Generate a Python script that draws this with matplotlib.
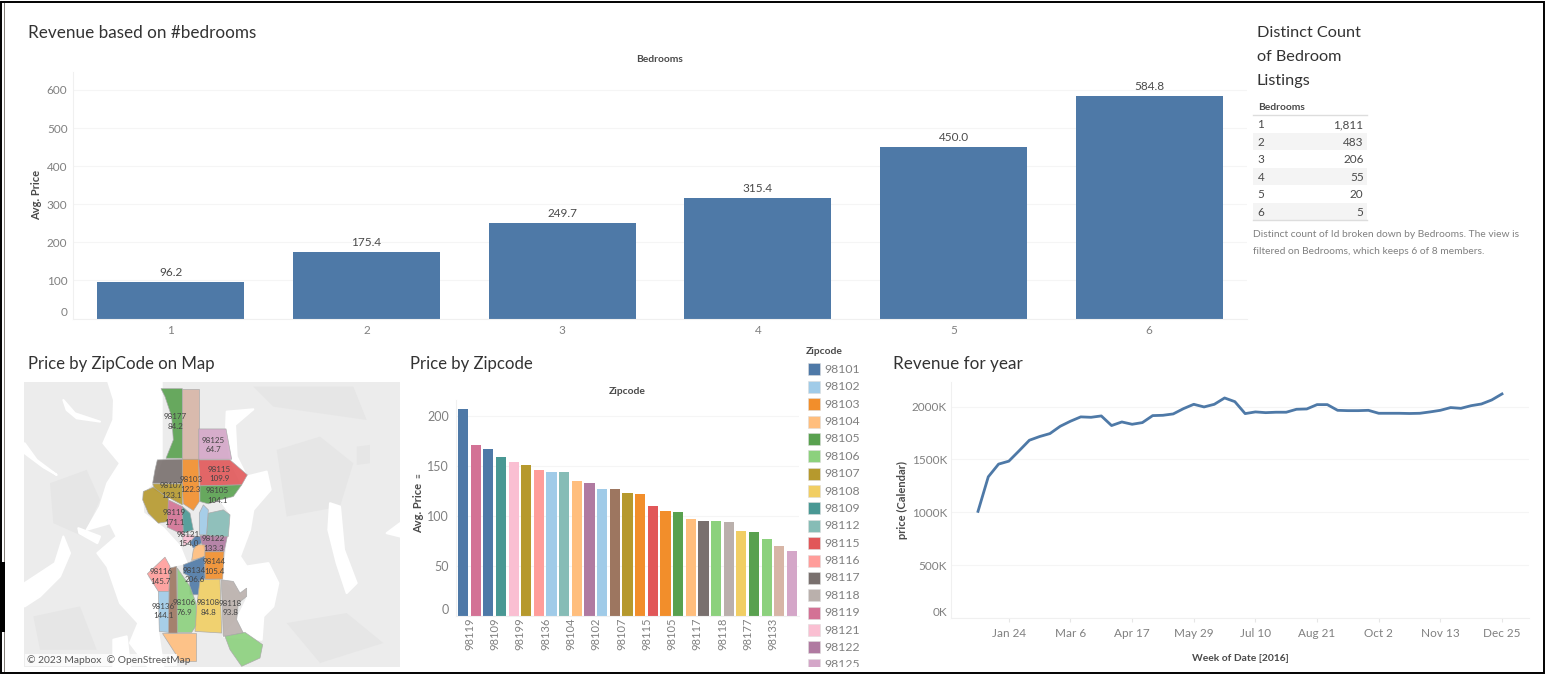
import numpy as np
import pandas as pd
import matplotlib
matplotlib.use('Agg')
import matplotlib.pyplot as plt
from matplotlib.patches import Polygon, Rectangle
from matplotlib.ticker import FuncFormatter

plt.rcParams['font.family'] = ['Lato', 'DejaVu Sans']

W, H = 1546, 675

BLUE = '#4e79a7'
TITLE = '#333333'
GREY = '#808080'
DARK = '#4a4a4a'
GRID = '#f5f5f5'

# ---------------------------------------------------------------------------
# Data

bedrooms = ['1', '2', '3', '4', '5', '6']
avg_price = [96.2, 175.4, 249.7, 315.4, 450.0, 584.8]
listing_counts = ['1,811', '483', '206', '55', '20', '5']

zip_order = ['98134', '98119', '98101', '98109', '98121', '98199', '98116', '98136', '98112',
             '98104', '98122', '98102', '98126', '98107', '98103', '98115', '98144', '98105',
             '98146', '98117', '98155', '98118', '98108', '98177', '98106', '98133', '98125']
zip_price = [206.6, 171.1, 167, 159, 154, 151.5, 145.7, 144.1, 144,
             135, 133.3, 127.5, 127.5, 123.1, 122.3, 109.9, 105.4, 104.1,
             97.5, 95, 95, 93.8, 84.8, 84.2, 76.9, 70.5, 64.7]

legend_zips = ['98101', '98102', '98103', '98104', '98105', '98106', '98107', '98108', '98109',
               '98112', '98115', '98116', '98117', '98118', '98119', '98121', '98122', '98125']

zip_colors = {'98101': '#4e79a7', '98102': '#a0cbe8', '98103': '#f28e2b', '98104': '#ffbe7d',
              '98105': '#59a14f', '98106': '#8cd17d', '98107': '#b6992d', '98108': '#f1ce63',
              '98109': '#499894', '98112': '#86bcb6', '98115': '#e15759', '98116': '#ff9d9a',
              '98117': '#79706e', '98118': '#bab0ac', '98119': '#d37295', '98121': '#fabfd2',
              '98122': '#b07aa1', '98125': '#d4a6c8', '98126': '#9d7660', '98133': '#d7b5a6',
              '98134': '#4e79a7', '98136': '#a0cbe8', '98144': '#f28e2b', '98146': '#ffbe7d',
              '98155': '#8cd17d', '98177': '#59a14f', '98178': '#8cd17d', '98199': '#b6992d'}

week_dates = pd.date_range('2016-01-03', periods=52, freq='7D')
revenue = [1009, 1336, 1456, 1484, 1582, 1682, 1717, 1745, 1814, 1862, 1903, 1899, 1912,
           1821, 1855, 1833, 1849, 1915, 1918, 1931, 1981, 2022, 1997, 2022, 2082, 2047,
           1934, 1950, 1943, 1947, 1947, 1975, 1978, 2019, 2019, 1965, 1962, 1962, 1965,
           1937, 1937, 1937, 1935, 1937, 1950, 1965, 1991, 1984, 2009, 2025, 2063, 2120]
revenue_ticks = ['Jan 24', 'Mar 6', 'Apr 17', 'May 29', 'Jul 10', 'Aug 21', 'Oct 2', 'Nov 13', 'Dec 25']

# map shapes, in map units (x to the right, y downwards)
map_land = [(12, 96), (1140, 96), (1140, 952), (12, 952)]
map_land_dark = [
    [(90, 400), (200, 360), (240, 450), (190, 560), (100, 520)],
    [(770, 300), (900, 260), (1000, 340), (960, 470), (800, 500)],
    [(1010, 290), (1050, 285), (1050, 340), (1010, 345)],
    [(800, 820), (980, 790), (1090, 880), (900, 940)],
    [(40, 800), (180, 770), (230, 900), (60, 900)],
    [(700, 110), (1000, 110), (1040, 210), (760, 170)],
]
map_water = [
    [(265, 96), (425, 96), (425, 330), (398, 400), (365, 430), (370, 490), (430, 535), (480, 590),
     (500, 640), (395, 660), (380, 680), (415, 730), (415, 850), (430, 952), (385, 952), (330, 880),
     (355, 820), (300, 760), (262, 650), (232, 610), (290, 560), (270, 520), (200, 540), (240, 470),
     (262, 400), (300, 340), (250, 280), (280, 210), (282, 150)],
    [(620, 185), (700, 178), (645, 225), (650, 320), (680, 380), (740, 365), (752, 420), (700, 480),
     (690, 540), (660, 620), (680, 650), (745, 640), (775, 700), (760, 770), (730, 800), (725, 870),
     (610, 860), (650, 810), (682, 745), (610, 690), (625, 560), (630, 490), (600, 450), (665, 405),
     (630, 330), (618, 240)],
    [(930, 460), (960, 470), (972, 600), (1010, 700), (980, 730), (950, 640), (925, 540)],
    [(14, 280), (50, 330), (110, 375), (70, 352), (14, 310)],
    [(14, 700), (105, 640), (130, 560), (150, 610), (120, 680), (60, 740), (14, 770)],
    [(175, 535), (240, 560), (232, 580), (178, 550)],
    [(130, 150), (165, 190), (240, 215), (170, 205), (140, 180)],
    [(280, 870), (320, 860), (330, 952), (280, 952)],
    [(1100, 550), (1140, 520), (1140, 560)],
]
map_shapes = {
    '98177': [(423, 116), (487, 116), (487, 325), (438, 325), (460, 270), (455, 200), (435, 140)],
    '98133': [(487, 116), (536, 116), (536, 328), (487, 328)],
    '98125': [(536, 237), (618, 237), (635, 328), (536, 328)],
    '98117': [(412, 330), (487, 328), (487, 400), (398, 400), (405, 360)],
    '98103': [(487, 328), (536, 328), (538, 455), (520, 482), (490, 462), (487, 410)],
    '98115': [(536, 330), (630, 330), (682, 375), (665, 405), (540, 408)],
    '98105': [(540, 408), (665, 405), (640, 440), (600, 450), (565, 462), (540, 455)],
    '98107': [(398, 402), (487, 402), (487, 465), (440, 440), (405, 420)],
    '98199': [(370, 425), (400, 412), (445, 445), (445, 515), (415, 520), (385, 490), (368, 450)],
    '98119': [(445, 450), (487, 470), (490, 555), (442, 532)],
    '98109': [(487, 470), (510, 490), (520, 540), (490, 550)],
    '98102': [(538, 490), (550, 465), (565, 480), (560, 555), (538, 555)],
    '98112': [(565, 490), (610, 480), (630, 495), (625, 560), (560, 558)],
    '98121': [(488, 555), (520, 555), (525, 562), (510, 575), (490, 590)],
    '98101': [(525, 560), (545, 560), (545, 580), (520, 595), (510, 578)],
    '98122': [(540, 557), (622, 560), (612, 606), (555, 606), (545, 580)],
    '98104': [(530, 585), (555, 585), (555, 620), (515, 632), (520, 600)],
    '98144': [(555, 606), (612, 606), (608, 688), (555, 688)],
    '98134': [(490, 645), (553, 620), (555, 685), (540, 700), (535, 735), (510, 735), (508, 680), (490, 670)],
    '98116': [(382, 672), (435, 622), (450, 650), (447, 725), (415, 725)],
    '98126': [(450, 655), (470, 650), (472, 850), (445, 850), (447, 725)],
    '98136': [(415, 725), (447, 725), (445, 848), (418, 845)],
    '98106': [(472, 655), (510, 710), (528, 760), (530, 825), (515, 848), (472, 848)],
    '98108': [(540, 690), (600, 688), (605, 850), (525, 845), (530, 770)],
    '98118': [(604, 690), (640, 695), (660, 730), (680, 715), (680, 740), (655, 760), (650, 810), (670, 850), (610, 860)],
    '98146': [(425, 850), (528, 850), (528, 935), (480, 935)],
    '98178': [(615, 860), (675, 848), (728, 885), (720, 925), (665, 950), (630, 900)],
}
map_labels = [('98177', '84.2', 465, 214), ('98125', '64.7', 581, 285), ('98115', '109.9', 598, 372),
              ('98103', '122.3', 513, 403), ('98107', '123.1', 455, 422), ('98105', '104.1', 592, 437),
              ('98119', '171.1', 464, 502), ('98121', '154.0', 506, 567), ('98122', '133.3', 581, 581),
              ('98144', '105.4', 584, 649), ('98134', '206.6', 523, 675), ('98116', '145.7', 423, 680),
              ('98136', '144.1', 431, 783), ('98106', '76.9', 494, 772), ('98108', '84.8', 566, 772),
              ('98118', '93.8', 632, 774)]


# ---------------------------------------------------------------------------
# Helpers, positions given in pixels of the picture

def px_axes(x0, y0, x1, y1):
    return fig.add_axes([x0 / W, 1 - y1 / H, (x1 - x0) / W, (y1 - y0) / H])


def px_text(x, y, s, size=9, color=DARK, **kw):
    kw.setdefault('va', 'center')
    return fig.text(x / W, 1 - y / H, s, fontsize=size, color=color, **kw)


def tidy(ax):
    for side in ['top', 'right']:
        ax.spines[side].set_visible(False)
    for side in ['left', 'bottom']:
        ax.spines[side].set_color('#f0f0f0')
    ax.grid(axis='y', color=GRID, linewidth=0.8)
    ax.set_axisbelow(True)
    ax.tick_params(length=0, colors=GREY)


fig = plt.figure(figsize=(W / 100, H / 100), dpi=100, facecolor='white')

# ---------------------------------------------------------------------------
# Revenue based on #bedrooms

ax = px_axes(73, 72, 1247, 318.5)
bars = ax.bar(bedrooms, avg_price, width=0.75, color=BLUE)
ax.bar_label(bars, labels=['%.1f' % v for v in avg_price], fontsize=8.5, color=DARK, padding=3)
ax.set_xlim(-0.5, 5.5)
ax.set_ylim(0, 647)
ax.set_yticks([0, 100, 200, 300, 400, 500, 600])
tidy(ax)
ax.tick_params(labelsize=8.5)
ax.get_yticklabels()[0].set_va('bottom')
ax.tick_params(axis='x', pad=5)
ax.tick_params(axis='y', pad=4)
ax.set_ylabel('Avg. Price', fontsize=8, color=DARK, fontweight='bold')
ax.yaxis.set_label_coords(-31 / 1174, 0.5)
px_text(28, 33, 'Revenue based on #bedrooms', size=12.35, color=TITLE)
px_text(660, 60, 'Bedrooms', size=7.4, ha='center', fontweight='bold')

# ---------------------------------------------------------------------------
# Distinct count table

px_text(1257, 33, 'Distinct Count', size=11.7, color=TITLE)
px_text(1257, 57, 'of Bedroom', size=11.7, color=TITLE)
px_text(1257, 81, 'Listings', size=11.7, color=TITLE)
px_text(1258, 108, 'Bedrooms', size=7.4, color=DARK, fontweight='bold')

tb = px_axes(1253, 115, 1367, 220)
tb.set_xlim(0, 1)
tb.set_ylim(len(bedrooms), 0)
tb.axis('off')
for i, (b, n) in enumerate(zip(bedrooms, listing_counts)):
    if i % 2 == 1:
        tb.add_patch(Rectangle((0, i), 1, 1, facecolor='#f4f4f4', edgecolor='none'))
    tb.text(0.04, i + 0.5, b, fontsize=8.5, color=DARK, va='center_baseline')
    tb.text(0.97, i + 0.5, n, fontsize=8.5, color=DARK, va='center_baseline', ha='right')
tb.plot([0, 1], [0, 0], color='#dddddd', lw=1, clip_on=False)
tb.plot([0, 1], [6, 6], color='#dddddd', lw=1, clip_on=False)

px_text(1253, 235, 'Distinct count of Id broken down by Bedrooms. The view is', size=7.35, color=GREY)
px_text(1253, 251, 'filtered on Bedrooms, which keeps 6 of 8 members.', size=7.35, color=GREY)

# ---------------------------------------------------------------------------
# Map

px_text(28, 364, 'Price by ZipCode on Map', size=12.05, color=TITLE)
mp = px_axes(24, 382, 400, 667)
mp.set_xlim(12, 1140)
mp.set_ylim(952, 96)
mp.axis('off')
mp.add_patch(Polygon(map_land, facecolor='#ececec', edgecolor='none'))
for shape in map_land_dark:
    mp.add_patch(Polygon(shape, facecolor='#e6e6e6', edgecolor='none'))
for shape in map_water:
    mp.add_patch(Polygon(shape, facecolor='white', edgecolor='white', linewidth=1.5, joinstyle='round'))
for code, shape in map_shapes.items():
    mp.add_patch(Polygon(shape, facecolor=zip_colors[code], edgecolor='#a8a8a8', linewidth=0.5, alpha=0.9))
for code, val, x, y in map_labels:
    mp.text(x, y - 14, code, fontsize=5.8, color='#444444', ha='center', va='center')
    mp.text(x, y + 15, val, fontsize=5.8, color='#444444', ha='center', va='center')
mp.add_patch(Rectangle((14, 912), 458, 38, facecolor='white', edgecolor='none', alpha=0.75))
mp.text(22, 931, '© 2023 Mapbox  © OpenStreetMap', fontsize=7.4, color='#555555', va='center')

# ---------------------------------------------------------------------------
# Price by Zipcode

px_text(410, 364, 'Price by Zipcode', size=12.05, color=TITLE)
px_text(627, 391, 'Zipcode', size=7.4, ha='center', fontweight='bold')

zp = px_axes(456, 400, 799, 616)
pos = np.arange(len(zip_order))
zp.bar(pos, zip_price, width=0.8, color=[zip_colors[z] for z in zip_order])
zp.set_xlim(-0.55, len(zip_order) - 0.45)
zp.set_ylim(0, 216)
zp.set_yticks([0, 50, 100, 150, 200])
tidy(zp)
zp.tick_params(axis='y', labelsize=9, pad=5)
zp.get_yticklabels()[0].set_va('bottom')
zp.set_xticks(pos[1::2] - 0.48)
zp.set_xticklabels(zip_order[1::2], rotation=90, fontsize=8)
zp.tick_params(axis='x', pad=1)
zp.set_ylabel('Avg. Price', fontsize=8, color=DARK, fontweight='bold')
zp.yaxis.set_label_coords(-32 / 343, 0.5)
px_text(419, 476, '≡', size=6, color=DARK, rotation=90, ha='center')

px_text(806, 352, 'Zipcode', size=7.4, fontweight='bold')
lg = px_axes(806, 360, 870, 667)
lg.set_xlim(806, 870)
lg.set_ylim(667, 360)
lg.axis('off')
for i, z in enumerate(legend_zips):
    yc = 369.5 + i * 17.37
    lg.add_patch(Rectangle((808, yc - 6), 12, 12, facecolor=zip_colors[z], edgecolor='#dddddd', linewidth=0.4))
    lg.text(824, yc, z, fontsize=8.8, color=GREY, va='center', clip_on=True)

# ---------------------------------------------------------------------------
# Revenue for year

px_text(893, 364, 'Revenue for year', size=12.3, color=TITLE)
ln = px_axes(951, 382, 1529, 618)
ln.plot(week_dates, revenue, color=BLUE, linewidth=2)
ln.set_xlim(week_dates[0] - pd.Timedelta(days=18.4), week_dates[-1] + pd.Timedelta(days=18.4))
ln.set_ylim(0, 2233)
ln.set_yticks([0, 500, 1000, 1500, 2000])
ln.yaxis.set_major_formatter(FuncFormatter(lambda v, p: '%dK' % v))
tidy(ln)
ln.tick_params(labelsize=8.5)
ln.get_yticklabels()[0].set_va('bottom')
ln.set_xticks(week_dates[3::6])
ln.set_xticklabels(revenue_ticks)
ln.tick_params(axis='x', length=3, color='#e6e6e6', pad=4)
ln.tick_params(axis='y', pad=3)
ln.set_ylabel('price (Calendar)', fontsize=8, color=DARK, fontweight='bold')
ln.yaxis.set_label_coords(-43 / 578, 0.5)
ln.set_xlabel('Week of Date [2016]', fontsize=7.4, color=DARK, labelpad=11, fontweight='bold')

# ---------------------------------------------------------------------------
# Screenshot border

fig.add_artist(Rectangle((0.5 / W, 1 - 672.5 / H), 1543.5 / W, 671 / H, transform=fig.transFigure,
                         facecolor='none', edgecolor='black', linewidth=1.4))
fig.add_artist(Rectangle((4 / W, 1 - 672 / H), 0.8 / W, 669 / H, transform=fig.transFigure,
                         facecolor='#85807a', edgecolor='none'))
fig.add_artist(Rectangle((0, 1 - 632 / H), 4.5 / W, 70 / H, transform=fig.transFigure,
                         facecolor='black', edgecolor='none'))

fig.savefig('out.png', dpi=100)
